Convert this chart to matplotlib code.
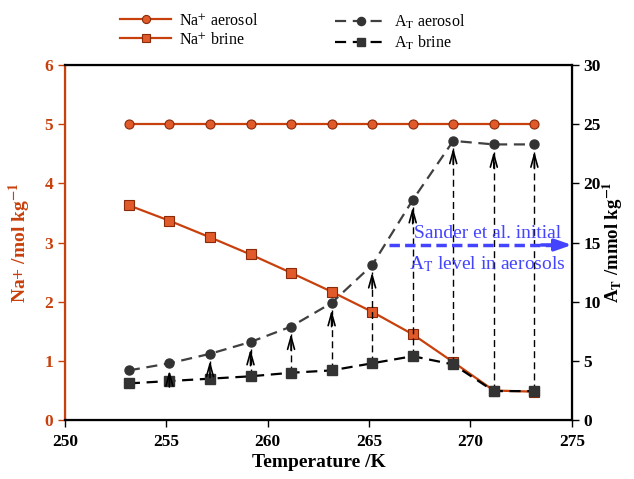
import matplotlib
matplotlib.use('Agg')
import matplotlib.pyplot as plt

plt.rcParams['font.family'] = ['Liberation Serif', 'DejaVu Serif']
plt.rcParams['mathtext.fontset'] = 'stix'

# data
temps = [253.15, 255.15, 257.15, 259.15, 261.15, 263.15, 265.15, 267.15, 269.15, 271.15, 273.15]
na_aerosol = [5.0, 5.0, 5.0, 5.0, 5.0, 5.0, 5.0, 5.0, 5.0, 5.0, 5.0]
na_brine = [3.63, 3.37, 3.09, 2.80, 2.49, 2.17, 1.83, 1.45, 0.98, 0.50, 0.48]
at_aerosol = [4.2, 4.8, 5.6, 6.6, 7.9, 9.9, 13.1, 18.6, 23.6, 23.3, 23.3]
at_brine = [3.1, 3.3, 3.5, 3.7, 4.0, 4.2, 4.8, 5.4, 4.7, 2.45, 2.45]
sander_level = 14.8

red = '#c8400c'
blue = '#4444ff'

fig = plt.figure(figsize=(6.34, 4.79), dpi=100)
ax = fig.add_axes([0.1025, 0.123, 0.7995, 0.741])
ax2 = ax.twinx()

l1, = ax.plot(temps, na_aerosol, '-', color=red, lw=1.6, marker='o', ms=6.5,
              mfc='#e05a2a', mec='#8a2a08', mew=0.8, label='Na$^{+}$ aerosol')
l2, = ax.plot(temps, na_brine, '-', color=red, lw=1.6, marker='s', ms=6.5,
              mfc='#e05a2a', mec='#8a2a08', mew=0.8, label='Na$^{+}$ brine')
l3, = ax2.plot(temps, at_aerosol, '--', color='#404040', lw=1.6, marker='o', ms=6.5,
               mfc='#333333', mec='#333333', dashes=(5, 3), label='A$_\\mathrm{T}$ aerosol')
l4, = ax2.plot(temps, at_brine, '--', color='black', lw=1.6, marker='s', ms=6.5,
               mfc='#333333', mec='#333333', dashes=(5, 3), label='A$_\\mathrm{T}$ brine')

# vertical arrows from brine to aerosol
for t, a, b in zip(temps[1:], at_aerosol[1:], at_brine[1:]):
    ax2.plot([t, t], [b, a - 0.6], color='black', lw=1, dashes=(5, 3), zorder=1)
    ax2.annotate('', xy=(t, a - 0.6), xytext=(t, a - 2.0),
                 arrowprops=dict(arrowstyle='->,head_length=0.9,head_width=0.25',
                                 color='black', lw=1.2, shrinkA=0, shrinkB=0))

# Sander et al. level
ax2.plot([266.0, 274.3], [sander_level, sander_level], color=blue, lw=2.5, dashes=(3, 1.5))
ax2.annotate('', xy=(275, sander_level), xytext=(273.5, sander_level),
             arrowprops=dict(arrowstyle='-|>,head_length=1.0,head_width=0.35',
                             color=blue, lw=2.5, shrinkA=0, shrinkB=0), annotation_clip=False)
ax2.text(270.85, 15.8, 'Sander et al. initial', color=blue, fontsize=14, ha='center', va='center')
ax2.text(270.85, 13.2, 'A$_\\mathrm{T}$ level in aerosols', color=blue, fontsize=14,
         ha='center', va='center')

ax.set_xlim(250, 275)
ax.set_ylim(0, 6)
ax2.set_ylim(0, 30)
ax.set_xticks([250, 255, 260, 265, 270, 275])
ax.set_yticks([0, 1, 2, 3, 4, 5, 6])
ax2.set_yticks([0, 5, 10, 15, 20, 25, 30])

ax.set_xlabel('Temperature /K', fontsize=14, fontweight='bold', labelpad=3)
ax.set_ylabel('Na+ /mol kg$^{\\mathbf{-1}}$', fontsize=14, fontweight='bold', color=red, labelpad=8)
ax2.set_ylabel('A$_\\mathbf{T}$ /mmol kg$^{\\mathbf{-1}}$', fontsize=13.5, fontweight='bold', labelpad=0)

for s in ['left', 'right', 'top', 'bottom']:
    ax2.spines[s].set_linewidth(1.6)
ax2.spines['left'].set_color(red)
ax.tick_params(axis='x', direction='out', width=1, length=5, pad=5, labelsize=12.5)
ax.tick_params(axis='y', direction='out', width=1, length=5, labelsize=12.5, colors=red)
ax2.tick_params(axis='y', direction='out', width=1, length=5, labelsize=12.5)
for lab in ax.get_xticklabels() + ax.get_yticklabels() + ax2.get_yticklabels():
    lab.set_fontweight('bold')

leg_kw = dict(loc='upper left', frameon=False, fontsize=11.5, handlelength=3.2,
              labelspacing=0.18, handletextpad=0.5, borderpad=0, borderaxespad=0,
              markerscale=0.9)
fig.legend(handles=[l1, l2], bbox_to_anchor=(120 / 634, 1 - 13 / 479), **leg_kw)
fig.legend(handles=[l3, l4], bbox_to_anchor=(335 / 634, 1 - 13 / 479), **leg_kw)

fig.savefig('out.png', dpi=100)
